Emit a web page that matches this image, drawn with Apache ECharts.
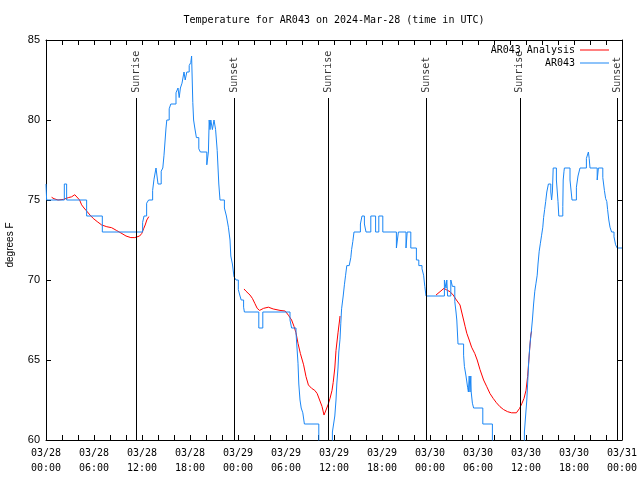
<!DOCTYPE html>
<html><head><meta charset="utf-8">
<script src="https://cdn.jsdelivr.net/npm/echarts@6/dist/echarts.min.js"></script>
<style>html,body{margin:0;padding:0;background:#fff}#c{width:640px;height:480px}</style>
</head><body><div id="c"></div>
<script>
const titleText = 'Temperature for AR043 on 2024-Mar-28 (time in UTC)';
const xTickLabels = ['03/28\n00:00','03/28\n06:00','03/28\n12:00','03/28\n18:00','03/29\n00:00','03/29\n06:00','03/29\n12:00','03/29\n18:00','03/30\n00:00','03/30\n06:00','03/30\n12:00','03/30\n18:00','03/31\n00:00'];
const sunHours = [11.28, 23.55, 35.27, 47.55, 59.22, 71.42];
const sunNames = ['Sunrise','Sunset','Sunrise','Sunset','Sunrise','Sunset'];

// AR043 observations: [hours since 03/28 00:00 UTC, degrees F] (value holds until next point)
const blueSteps = [
[0,76],[0.08,75],[2.29,76],[2.58,75],[5.08,74],[7.04,73],
[12.08,73.6],[12.25,74],[12.58,74.8],[12.83,75],[13.33,75.6],[13.5,76.3],[13.75,77],[14.0,76],[14.4,76.8],[14.6,77],[14.75,77.8],[15.0,79.5],[15.1,80],[15.4,80.7],[15.6,81],[16.25,81.7],[16.5,82],[16.65,81.4],[16.8,82],[17.0,82.3],[17.25,83],[17.4,82.5],[17.6,83],[17.9,83.4],[18.1,83.6],[18.2,84],[18.35,81.1],[18.45,80],[18.6,79.5],[18.8,78.9],[19.1,78.2],[19.3,78],[20.1,77.2],[20.3,78],[20.4,80],[20.5,79.4],[20.6,80],[20.8,79.4],[21.0,80],[21.2,79.4],[21.4,78.1],[21.6,76],[21.75,75],[22.3,74.5],[22.55,74],[22.8,73.3],[23.0,72.5],[23.1,71.5],[23.3,71],[23.5,70.2],[23.75,70],[24.04,69.4],[24.25,69],[24.4,68.75],[24.7,68.3],[24.8,68],[26.6,67],[27.1,68],[30.5,67.5],[30.7,67],[31.25,66.7],[31.5,64.8],[31.6,63.5],[31.75,62.5],[31.9,62],[32.1,61.7],[32.3,61],[34.1,58],
[35.8,60.5],[35.95,61],[36.1,61.5],[36.25,62.5],[36.35,63.5],[36.5,64.5],[36.6,65.5],[36.75,66.3],[36.85,67.3],[36.95,68.2],[37.15,69],[37.3,69.7],[37.45,70.3],[37.6,70.9],[37.9,71],[38.1,71.4],[38.2,71.9],[38.35,72.4],[38.5,73],[39.3,73.5],[39.5,74],[39.8,73.5],[40.0,73],[40.6,74],[41.2,73],[41.6,74],[42.1,73],[43.8,72],[44.05,73],[45.0,72],[45.15,73],[45.6,72],[46.3,71.25],[46.6,70.9],[47.0,70.7],[47.2,70.3],[47.35,69.6],[47.5,69],[49.8,70],[50.0,69.5],[50.1,70],[50.2,69],[50.6,70],[50.8,69.6],[51.1,68.65],[51.25,68],[51.35,67.5],[51.5,66],[52.2,65.3],[52.3,64.6],[52.5,64],[52.7,63.3],[52.8,63],[52.9,64],[53.0,63],[53.1,64],[53.15,63],[53.3,62.3],[53.45,62],[54.6,61],[55.8,58],
[59.8,60.5],[59.95,61.5],[60.1,62.5],[60.25,64],[60.35,65],[60.5,66],[60.65,66.7],[60.8,67.5],[60.95,68.5],[61.1,69.3],[61.25,69.8],[61.4,70.3],[61.5,71],[61.65,71.8],[61.8,72.3],[61.95,72.8],[62.1,73.3],[62.2,73.9],[62.33,74.4],[62.46,74.9],[62.6,75.5],[62.8,76],[63.1,75.5],[63.2,75],[63.3,75.5],[63.4,77],[63.8,76.25],[64.0,74.9],[64.1,74],[64.6,74.6],[64.65,76.25],[64.75,76.8],[64.8,77],[65.5,76.25],[65.75,75],[66.3,75.8],[66.5,76.5],[66.75,77],[67.55,77.6],[67.8,78],[67.9,77.6],[68.0,77],[68.9,76.25],[69.05,77],[69.6,76.4],[69.8,75.6],[69.95,75.1],[70.1,74.9],[70.2,74.4],[70.35,73.75],[70.5,73.3],[70.7,73],[71.0,72.7],[71.2,72.2],[71.4,72],[72,72]
];

// AR043 Analysis: [hours, degrees F], null = gap
const redPoints = [
[0.7,75.17],[1.0,75.08],[1.5,75.0],[2.2,75.04],[2.8,75.15],[3.2,75.2],[3.6,75.33],[3.8,75.3],[4.2,75.0],[4.45,74.7],[4.75,74.5],[5.1,74.3],[5.5,74.06],[5.9,73.85],[6.4,73.65],[6.96,73.44],[7.6,73.33],[8.2,73.27],[8.8,73.1],[9.5,72.9],[10.0,72.75],[10.6,72.65],[11.1,72.65],[11.7,72.75],[11.96,72.9],[12.2,73.2],[12.4,73.44],[12.6,73.75],[12.85,73.96],
[13.0,null],
[24.75,69.44],[25.0,69.3],[25.5,69.06],[25.8,68.85],[26.1,68.54],[26.4,68.23],[26.7,68.1],[27.2,68.23],[27.8,68.3],[28.4,68.19],[29.25,68.1],[29.9,68.06],[30.3,67.8],[30.7,67.5],[31.0,67.1],[31.25,66.7],[31.5,66.04],[31.8,65.4],[32.2,64.7],[32.5,63.96],[32.8,63.44],[33.2,63.23],[33.6,63.1],[33.9,62.9],[34.2,62.5],[34.5,62.1],[34.75,61.56],[35.0,61.875],[35.25,62.2],[35.5,62.6],[35.75,63.1],[35.9,63.6],[36.1,64.5],[36.25,65.6],[36.5,66.7],[36.7,67.5],[36.75,67.75],
[37.0,null],
[48.75,69.06],[49.25,69.27],[49.75,69.48],[50.1,69.375],[50.5,69.27],[50.9,69.06],[51.3,68.75],[51.75,68.44],[51.96,68.0],[52.2,67.5],[52.4,67.08],[52.6,66.67],[52.9,66.25],[53.2,65.8],[53.6,65.4],[53.9,65.0],[54.25,64.4],[54.7,63.75],[55.1,63.33],[55.5,62.9],[55.9,62.6],[56.3,62.33],[56.75,62.08],[57.2,61.9],[57.7,61.77],[58.2,61.7],[58.8,61.7],[59.2,61.98],[59.5,62.3],[59.75,62.6],[60.0,63.1],[60.2,63.96],[60.33,64.8],[60.46,65.7],[60.6,66.56],[60.7,66.8]
];

const Y_MIN = 60, Y_MAX = 85, SUN_LINE_TOP = 81.375, SUN_LABEL_Y = 81.7;
const MONO = 'DejaVu Sans Mono';
const SANS = 'Liberation Sans';

const chart = echarts.init(document.getElementById('c'), null, {renderer: 'canvas'});
const tickStyle = {show: true, inside: true, length: 5, lineStyle: {color: '#000', width: 1}};
const axLine = {show: true, onZero: false, lineStyle: {color: '#000', width: 1}};
chart.setOption({
  animation: false,
  backgroundColor: '#fff',
  title: {
    text: titleText, left: 329, top: 10, textAlign: 'center',
    textStyle: {fontFamily: MONO, fontSize: 10, fontWeight: 'normal', color: '#000'}
  },
  legend: {
    data: ['AR043 Analysis', 'AR043'], orient: 'vertical', right: 26, top: 39,
    align: 'right', icon: 'rect', itemWidth: 29, itemHeight: 1, itemGap: 1,
    textStyle: {fontFamily: MONO, fontSize: 10, color: '#000', lineHeight: 12}
  },
  grid: {left: 46, right: 18, top: 40, bottom: 40, containLabel: false, outerBoundsMode: 'none'},
  xAxis: [{
    type: 'value', min: 0, max: 72, interval: 2, position: 'bottom',
    axisLine: axLine, axisTick: tickStyle, splitLine: {show: false},
    axisLabel: {
      margin: 6, fontFamily: MONO, fontSize: 10, lineHeight: 15, color: '#000', hideOverlap: false,
      formatter: v => { const r = Math.round(v); return r % 6 === 0 ? xTickLabels[r / 6] : ''; }
    }
  }, {
    type: 'value', min: 0, max: 72, interval: 2, position: 'top',
    axisLine: axLine, axisTick: tickStyle, axisLabel: {show: false}, splitLine: {show: false}
  }],
  yAxis: [{
    type: 'value', min: Y_MIN, max: Y_MAX, interval: 5, position: 'left',
    name: 'degrees F', nameLocation: 'middle', nameGap: 31, nameRotate: 90,
    nameTextStyle: {fontFamily: SANS, fontSize: 10, color: '#000', padding: [0, 10, 0, 0]},
    axisLine: axLine, axisTick: tickStyle, splitLine: {show: false},
    axisLabel: {margin: 6, fontFamily: SANS, fontSize: 11, color: '#000'}
  }, {
    type: 'value', min: Y_MIN, max: Y_MAX, interval: 5, position: 'right',
    axisLine: axLine, axisTick: tickStyle, axisLabel: {show: false}, splitLine: {show: false}
  }],
  series: [{
    name: 'sun', type: 'scatter', xAxisIndex: 0, yAxisIndex: 0, z: 1,
    symbolSize: 0, silent: true,
    data: sunHours.map((h, i) => ({value: [h, SUN_LABEL_Y], name: sunNames[i]})),
    label: {
      show: true, formatter: '{b}', position: 'inside', rotate: 90, align: 'left', verticalAlign: 'middle',
      fontFamily: MONO, fontSize: 10, color: '#000'
    },
    markLine: {
      silent: true, symbol: 'none', label: {show: false},
      lineStyle: {color: '#000', width: 1, type: 'solid'},
      data: sunHours.map(h => [{coord: [h, Y_MIN]}, {coord: [h, SUN_LINE_TOP]}])
    }
  }, {
    name: 'AR043 Analysis', type: 'line', xAxisIndex: 0, yAxisIndex: 0, z: 2,
    color: '#ff0000', showSymbol: false, connectNulls: false, clip: true,
    lineStyle: {color: '#ff0000', width: 1},
    data: redPoints.map(p => [p[0], p[1] === null ? '-' : p[1]])
  }, {
    name: 'AR043', type: 'line', xAxisIndex: 0, yAxisIndex: 0, z: 3,
    color: '#1a86f5', showSymbol: false, step: 'end', clip: true,
    lineStyle: {color: '#1a86f5', width: 1},
    data: blueSteps
  }]
});
</script>
</body></html>
